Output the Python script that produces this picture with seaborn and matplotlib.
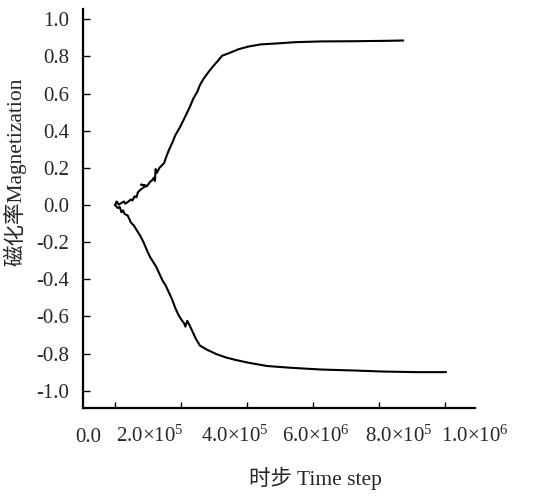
import matplotlib
matplotlib.use("Agg")
import matplotlib.pyplot as plt
import pandas as pd
import seaborn as sns

# 磁化率随时步的演化：两个分支
t_up = [0, 4.8e3, 11.4e3, 19.1e3, 26.8e3, 30.6e3, 38.3e3, 47.8e3, 52.6e3, 59.4e3,
        65.1e3, 68.9e3, 76.6e3, 86.2e3, 95.8e3, 78.5e3, 96.5e3, 105.3e3, 113.0e3,
        116.9e3, 120.7e3, 122.6e3, 126.5e3, 134.1e3, 148.5e3, 153.3e3, 162.9e3,
        174.4e3, 182.1e3, 196.4e3, 210.8e3, 225.2e3, 237.6e3, 249.2e3, 256.8e3,
        268.3e3, 282.7e3, 297.1e3, 311.5e3, 323.9e3, 345.0e3, 373.8e3, 402.5e3,
        440.9e3, 488.8e3, 546.3e3, 623.0e3, 718.9e3, 814.8e3, 872.3e3]
m_up = [0.0, 0.019, 0.002, 0.011, 0.019, 0.007, 0.016, 0.030, 0.025, 0.047,
        0.042, 0.068, 0.082, 0.095, 0.103, 0.110, 0.101, 0.124, 0.135,
        0.147, 0.130, 0.194, 0.173, 0.200, 0.226, 0.252, 0.296,
        0.340, 0.375, 0.419, 0.471, 0.524, 0.576, 0.611, 0.646,
        0.681, 0.716, 0.748, 0.777, 0.804, 0.818, 0.839, 0.853,
        0.865, 0.870, 0.877, 0.881, 0.882, 0.884, 0.886]

t_down = [0, 7.6e3, 14.3e3, 19.1e3, 23.9e3, 28.7e3, 38.3e3, 43.0e3, 47.8e3, 57.4e3,
          67.0e3, 76.6e3, 86.2e3, 95.8e3, 105.3e3, 115.0e3, 124.5e3, 134.1e3,
          143.7e3, 153.3e3, 162.9e3, 172.5e3, 182.1e3, 191.6e3, 201.2e3, 208.9e3,
          212.7e3, 218.5e3, 225.2e3, 234.8e3, 244.4e3, 256.8e3, 277.9e3, 306.7e3,
          335.4e3, 364.2e3, 402.5e3, 460.1e3, 527.2e3, 623.0e3, 718.9e3, 814.8e3,
          910.6e3, 1001.7e3]
m_down = [0.0, -0.016, -0.011, -0.039, -0.029, -0.048, -0.057, -0.075, -0.094, -0.112,
          -0.140, -0.167, -0.201, -0.241, -0.278, -0.306, -0.333, -0.370,
          -0.407, -0.434, -0.471, -0.508, -0.554, -0.591, -0.619, -0.637,
          -0.655, -0.624, -0.646, -0.683, -0.720, -0.757, -0.779, -0.803,
          -0.821, -0.834, -0.849, -0.867, -0.876, -0.886, -0.891, -0.897,
          -0.900, -0.900]

x_tick_pos = [0, 2e5, 4e5, 6e5, 8e5, 1e6]
x_label_pos = [-79.7e3, 104.4e3, 363.2e3, 607.7e3, 857.9e3, 1089.4e3]
x_labels = ["0.0", "2.0×10$^5$", "4.0×10$^5$", "6.0×10$^6$", "8.0×10$^5$", "1.0×10$^6$"]
y_ticks = [-1.0, -0.8, -0.6, -0.4, -0.2, 0.0, 0.2, 0.4, 0.6, 0.8, 1.0]
y_labels = ["-1.0", "-0.8", "-0.6", "-0.4", "-0.2", "0.0", "0.2", "0.4", "0.6", "0.8", "1.0"]

sns.set_style("white")
plt.rcParams["font.family"] = ["Liberation Serif", "Noto Sans CJK SC"]
plt.rcParams["mathtext.fontset"] = "custom"
plt.rcParams["mathtext.rm"] = "Liberation Serif"
plt.rcParams["mathtext.it"] = "Liberation Serif"

df_up = pd.DataFrame({"t": t_up, "m": m_up})
df_down = pd.DataFrame({"t": t_down, "m": m_down})

fig = plt.figure(figsize=(5.46, 4.97), dpi=100)
ax = fig.add_axes([0.1526, 0.1797, 0.7174, 0.8016])

sns.lineplot(data=df_up, x="t", y="m", sort=False, estimator=None, color="black", lw=1.5, ax=ax)
sns.lineplot(data=df_down, x="t", y="m", sort=False, estimator=None, color="black", lw=1.5, ax=ax)

ax.set_xlim(-96.1e3, 1030.5e3)
ax.set_ylim(-1.0915, 1.054)

sns.despine(ax=ax)
for s in ["left", "bottom"]:
    ax.spines[s].set_linewidth(1.6)
    ax.spines[s].set_color("black")

ax.set_xticks(x_tick_pos)
ax.set_xticklabels([""] * len(x_tick_pos))
ax.set_xticks(x_label_pos, minor=True)
ax.set_xticklabels(x_labels, minor=True)
ax.tick_params(axis="x", which="major", direction="in", length=4, width=1, color="black", bottom=True)
ax.tick_params(axis="x", which="minor", length=0, pad=24.5, labelsize=15)
for lab in ax.get_xticklabels(minor=True):
    lab.set_verticalalignment("baseline")

ax.set_yticks(y_ticks)
ax.set_yticklabels(y_labels)
ax.tick_params(axis="y", direction="in", length=5, width=1, color="black", pad=10, labelsize=15, left=True)

ax.set_xlabel("")
ax.set_ylabel("")
fig.text(0.027, 0.654, "磁化率Magnetization", rotation=90, ha="center", va="center", fontsize=15.5)
fig.text(0.577, 0.038, "时步 Time step", ha="center", va="center", fontsize=15.5)

fig.savefig("out.png", dpi=100)
